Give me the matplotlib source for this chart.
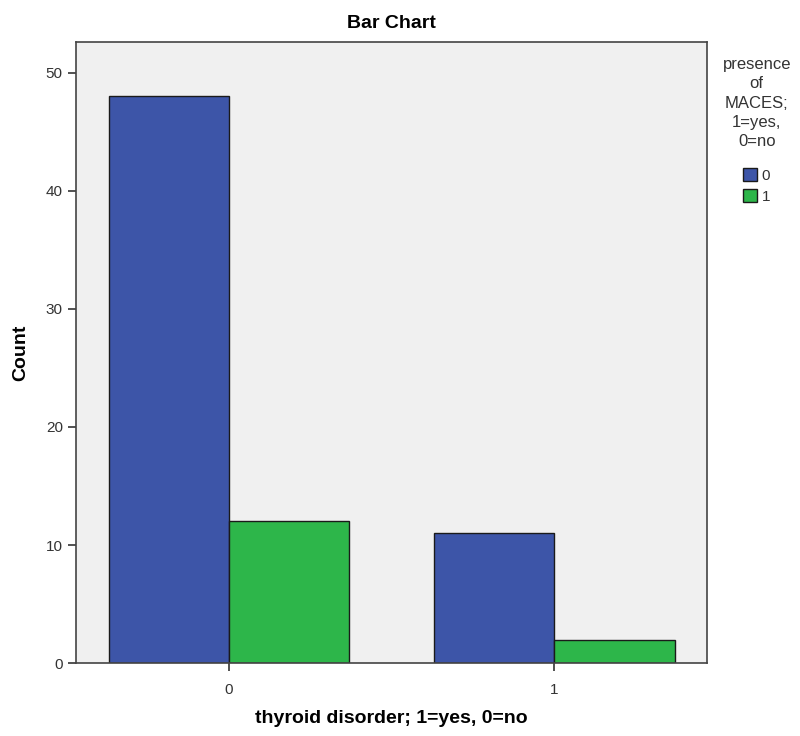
import numpy as np
import matplotlib
matplotlib.use('Agg')
import matplotlib.pyplot as plt

# chart data
categories = ['0', '1']
counts_no = [48, 11]    # presence of MACES = 0
counts_yes = [12, 2]    # presence of MACES = 1
series_labels = ['0', '1']
colors = ['#3D55A8', '#2DB64A']

plt.rcParams['font.family'] = ['Liberation Sans', 'DejaVu Sans']

fig = plt.figure(figsize=(8, 7.36), dpi=100)
ax = fig.add_axes([0.095, 0.099, 0.789, 0.844])
ax.set_facecolor('#F0F0F0')

x = np.arange(len(categories))
w = 0.37
b0 = ax.bar(x - w/2, counts_no, w, color=colors[0], edgecolor='#1a1a1a', linewidth=1.0, label=series_labels[0])
b1 = ax.bar(x + w/2, counts_yes, w, color=colors[1], edgecolor='#1a1a1a', linewidth=1.0, label=series_labels[1])

ax.set_xlim(-0.47, 1.47)
ax.set_ylim(0, 52.6)
ax.set_xticks(x)
ax.set_xticklabels(categories)
ax.set_yticks([0, 10, 20, 30, 40, 50])
ax.tick_params(axis='both', labelsize=11, color='#333333', labelcolor='#333333', length=6, width=1.2)
ax.tick_params(axis='x', pad=8)
for s in ax.spines.values():
    s.set_color('#444444')
    s.set_linewidth(1.2)

ax.set_title('Bar Chart', fontsize=14, fontweight='bold', pad=10)
ax.set_ylabel('Count', fontsize=14, fontweight='bold', labelpad=12)
ax.set_xlabel('thyroid disorder; 1=yes, 0=no', fontsize=14, fontweight='bold', labelpad=10)

leg = ax.legend(title='presence\nof\nMACES;\n1=yes,\n0=no', loc='upper left',
                bbox_to_anchor=(1.0, 1.0), frameon=False, fontsize=11, title_fontsize=12,
                handlelength=0.9, handleheight=0.9, handletextpad=0.3, borderaxespad=0.6,
                labelspacing=0.4)
leg.get_title().set_multialignment('center')
leg.get_title().set_linespacing(1.35)
leg.get_title().set_color('#333333')
leg._legend_box.sep = 14
for t in leg.get_texts():
    t.set_color('#333333')

plt.savefig('out.png', dpi=100)
